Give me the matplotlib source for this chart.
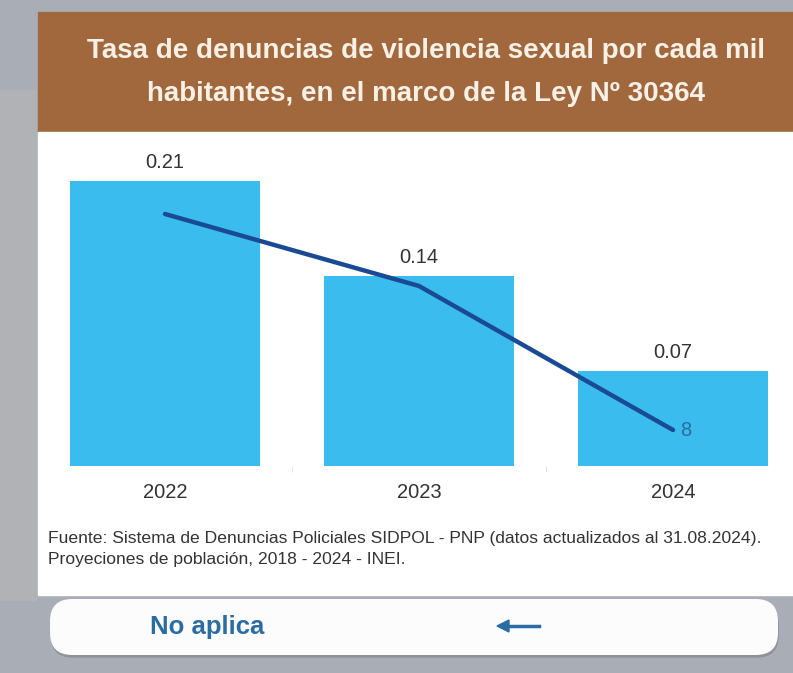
import matplotlib.pyplot as plt
from matplotlib.patches import Rectangle, FancyBboxPatch

years = ["2022", "2023", "2024"]
tasa = [0.21, 0.14, 0.07]
denuncias = [56, 40, 8]

title = "Tasa de denuncias de violencia sexual por cada mil\nhabitantes, en el marco de la Ley Nº 30364"
fuente = ("Fuente: Sistema de Denuncias Policiales SIDPOL - PNP (datos actualizados al 31.08.2024).\n"
          "Proyeciones de población, 2018 - 2024 - INEI.")

W, H = 793, 673
fig = plt.figure(figsize=(W / 100, H / 100), dpi=100)
fig.patch.set_facecolor("#aaadb1")

def px(x0, y0, x1, y1):
    # pixel box (top-left origin) -> figure fraction rect
    return [x0 / W, 1 - y1 / H, (x1 - x0) / W, (y1 - y0) / H]

# background pieces
fig.patches.append(Rectangle((0, 0), 1, 1, transform=fig.transFigure, color="#a9aeb6", zorder=0))
r = px(0, 90, 36, 600)
fig.patches.append(Rectangle((r[0], r[1]), r[2], r[3], transform=fig.transFigure, color="#b1b2b5", zorder=0))
r = px(38, 12, 793, 132)
fig.patches.append(Rectangle((r[0], r[1]), r[2], r[3], transform=fig.transFigure, color="#a1683d", zorder=1))
r = px(38, 132, 793, 595)
fig.patches.append(Rectangle((r[0], r[1]), r[2], r[3], transform=fig.transFigure, color="white", zorder=1))

# button
r = px(50, 599, 778, 655)
fig.patches.append(FancyBboxPatch((r[0] + 0.001, r[1] - 0.004), r[2], r[3], boxstyle="round,pad=0,rounding_size=0.028",
                                  transform=fig.transFigure, fc="#8f9296", ec="none", zorder=1, mutation_aspect=W / H))
fig.patches.append(FancyBboxPatch((r[0], r[1]), r[2], r[3], boxstyle="round,pad=0,rounding_size=0.028",
                                  transform=fig.transFigure, fc="#fcfcfc", ec="none", zorder=2, mutation_aspect=W / H))

fig.text(426 / W, 1 - 72.5 / H, title, ha="center", va="center", color="#f7f0e6",
         fontsize=20, fontweight="bold", family="Liberation Sans", linespacing=1.85, zorder=3)
fig.text(48 / W, 1 - 549 / H, fuente, ha="left", va="center", color="#333333",
         fontsize=12.6, family="Liberation Sans", linespacing=1.55, zorder=3)
fig.text(150 / W, 1 - 627 / H, "No aplica", ha="left", va="center", color="#2b6da3",
         fontsize=18.5, fontweight="bold", family="Liberation Sans", zorder=3)
fig.add_artist(plt.Line2D([502 / W, 539 / W], [1 - 626 / H] * 2, color="#2b6da3", lw=2.5, zorder=3))
fig.add_artist(plt.Polygon([[497 / W, 1 - 626 / H], [509 / W, 1 - 620 / H], [509 / W, 1 - 632 / H]],
                           closed=True, color="#2b6da3", zorder=3))

# chart axes: baseline at y=466 px, 1357 px per unit of tasa
ax_box = px(40, 140, 790, 466)
ax = fig.add_axes(ax_box, zorder=4)
ax.patch.set_alpha(0)
x = list(range(len(years)))
step = 254
ax.set_xlim((40 - 165) / step, (790 - 165) / step)
ax.set_ylim(0, 326 / 1357)
bars = ax.bar(x, tasa, width=0.75, color="#3bbcef", zorder=2)
for xi, v in zip(x, tasa):
    ax.text(xi, v + 0.007, f"{v:.2f}", ha="center", va="bottom", fontsize=14.5,
            color="#333333", family="Liberation Sans")
ax.set_xticks(x)
ax.set_xticklabels(years, fontsize=14.5, color="#333333", family="Liberation Sans")
ax.set_xticks([0.5, 1.5], minor=True)
ax.tick_params(axis="x", which="major", length=0, pad=12)
ax.tick_params(axis="x", which="minor", length=4, color="#dddddd", direction="out")
ax.set_yticks([])
for s in ax.spines.values():
    s.set_visible(False)

ax2 = ax.twinx()
ax2.set_ylim(0, 326 / 4.5)
ax2.plot(x, denuncias, color="#1a4a94", lw=3.2, solid_capstyle="round", zorder=3)
ax2.text(x[-1] + 0.03, denuncias[-1], str(denuncias[-1]), ha="left", va="center",
         fontsize=14.5, color="#2b6da3", family="Liberation Sans")
ax2.set_yticks([])
for s in ax2.spines.values():
    s.set_visible(False)

fig.savefig("out.png", dpi=100, facecolor=fig.get_facecolor())
